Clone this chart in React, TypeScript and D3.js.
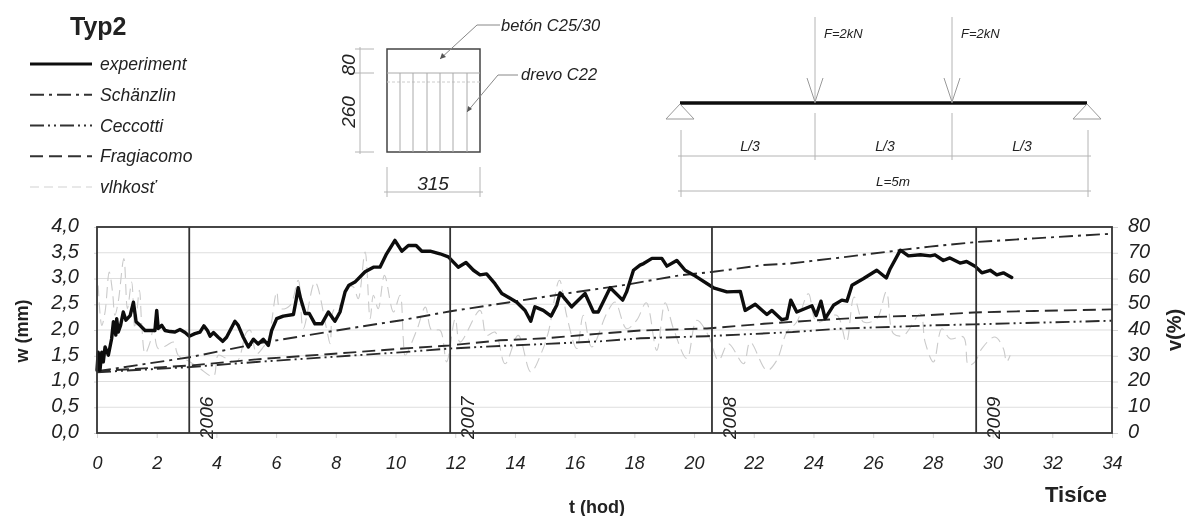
import React, { useEffect, useRef } from "react";
import * as d3 from "d3";

const FONT = "'Liberation Sans', Arial, sans-serif";

const xTicks = [0, 2, 4, 6, 8, 10, 12, 14, 16, 18, 20, 22, 24, 26, 28, 30, 32, 34];
const wTicks = [0, 0.5, 1, 1.5, 2, 2.5, 3, 3.5, 4];
const vTicks = [0, 10, 20, 30, 40, 50, 60, 70, 80];
const years = [
  { t: 3.09, label: "2006" },
  { t: 11.83, label: "2007" },
  { t: 20.6, label: "2008" },
  { t: 29.45, label: "2009" },
];

// [t (thousand hours), w (mm)]
const experiment: [number, number][] = [
  [0, 1.22], [0.04, 1.57], [0.1, 1.22], [0.16, 1.57], [0.21, 1.38], [0.27, 1.67], [0.38, 1.51], [0.49, 1.83],
  [0.55, 2.16], [0.63, 1.9], [0.66, 2.22], [0.71, 1.96], [0.79, 2.09], [0.88, 2.35], [0.97, 2.19], [1.11, 2.28],
  [1.22, 2.54], [1.31, 2.16], [1.44, 2.09], [1.61, 1.99], [1.78, 1.99], [1.94, 1.99], [2.0, 2.38], [2.05, 2.03],
  [2.17, 2.09], [2.28, 1.99], [2.45, 1.97], [2.61, 1.96], [2.78, 2.01], [2.95, 1.95], [3.09, 1.88], [3.28, 1.93],
  [3.45, 1.96], [3.58, 2.08], [3.7, 1.99], [3.79, 1.88], [3.9, 1.95], [4.06, 1.86], [4.21, 1.78], [4.34, 1.86],
  [4.62, 2.17], [4.73, 2.09], [4.9, 1.86], [5.07, 1.67], [5.24, 1.82], [5.4, 1.73], [5.57, 1.82], [5.74, 1.7],
  [5.85, 1.99], [6.02, 2.22], [6.24, 2.27], [6.58, 2.3], [6.67, 2.58], [6.74, 2.82], [6.82, 2.61], [6.97, 2.32],
  [7.11, 2.32], [7.3, 2.12], [7.53, 2.12], [7.75, 2.35], [7.97, 2.17], [8.14, 2.35], [8.31, 2.74], [8.44, 2.87],
  [8.64, 2.93], [8.98, 3.13], [9.26, 3.22], [9.48, 3.22], [9.7, 3.48], [9.98, 3.74], [10.21, 3.53], [10.43, 3.64],
  [10.69, 3.64], [10.88, 3.53], [11.16, 3.53], [11.49, 3.48], [11.77, 3.42], [12.1, 3.22], [12.36, 3.31], [12.61, 3.16],
  [12.83, 3.07], [13.05, 3.09], [13.33, 2.9], [13.56, 2.71], [14.06, 2.54], [14.34, 2.38], [14.53, 2.17], [14.67, 2.45],
  [14.95, 2.38], [15.21, 2.27], [15.4, 2.48], [15.51, 2.72], [15.9, 2.45], [16.35, 2.71], [16.63, 2.35], [16.79, 2.35],
  [17.19, 2.82], [17.61, 2.58], [17.74, 2.74], [17.97, 3.16], [18.19, 3.26], [18.31, 3.29], [18.59, 3.39], [18.92, 3.39],
  [19.09, 3.24], [19.42, 3.35], [19.7, 3.16], [19.98, 3.07], [20.65, 2.82], [21.1, 2.74], [21.55, 2.75], [21.71, 2.38],
  [22.05, 2.5], [22.44, 2.3], [22.61, 2.38], [22.94, 2.2], [23.11, 2.22], [23.24, 2.58], [23.44, 2.35], [23.95, 2.47],
  [24.09, 2.28], [24.25, 2.56], [24.39, 2.22], [24.67, 2.48], [24.95, 2.58], [25.12, 2.56], [25.29, 2.87], [25.68, 3.0],
  [26.12, 3.16], [26.44, 3.01], [26.57, 3.19], [26.91, 3.55], [27.18, 3.44], [27.58, 3.46], [27.91, 3.44], [28.07, 3.46],
  [28.35, 3.35], [28.57, 3.4], [28.91, 3.3], [29.13, 3.33], [29.41, 3.24], [29.64, 3.11], [29.92, 3.16], [30.14, 3.07],
  [30.36, 3.11], [30.64, 3.02],
];

const schanzlin: [number, number][] = [
  [0, 1.2], [3.1, 1.47], [5.5, 1.75], [8.44, 2.03], [10.2, 2.19], [11.8, 2.36], [14.06, 2.56], [15.5, 2.69],
  [17.74, 2.88], [19.5, 3.06], [20.65, 3.13], [22.3, 3.26], [23.2, 3.29], [25.1, 3.42], [26.9, 3.55], [27.9, 3.62],
  [29.5, 3.71], [31.4, 3.78], [34, 3.87],
];

const ceccotti: [number, number][] = [
  [0, 1.18], [3.1, 1.28], [5.35, 1.38], [8.44, 1.5], [10.26, 1.57], [11.8, 1.64], [13.5, 1.69], [15.06, 1.73],
  [16.85, 1.78], [18.2, 1.84], [20.43, 1.88], [23.3, 1.96], [25, 2.03], [26.6, 2.06], [28, 2.09], [29.36, 2.11],
  [31.4, 2.14], [32.7, 2.16], [34, 2.18],
];

const fragiacomo: [number, number][] = [
  [0, 1.2], [3.1, 1.31], [5.35, 1.43], [8.44, 1.56], [10.26, 1.64], [11.8, 1.7], [13.5, 1.8], [15.06, 1.84],
  [16.85, 1.93], [18.2, 1.99], [20.43, 2.03], [22.33, 2.12], [24.1, 2.19], [25.9, 2.25], [27.57, 2.28], [29.36, 2.34],
  [31.4, 2.37], [34, 2.4],
];

// [t (thousand hours), v (%)]
const moisture: [number, number][] = [
  [0.04, 57.3], [0.16, 41.8], [0.27, 47], [0.41, 62.5], [0.52, 54.8], [0.6, 45.7], [0.71, 50.9], [0.9, 67.7],
  [1.02, 48.3], [1.16, 58.6], [1.27, 40.5], [1.42, 55.4], [1.5, 41.8], [1.61, 30.8], [1.78, 35.3], [1.89, 40.5],
  [2.05, 32.8], [2.33, 34], [2.56, 35.3], [2.72, 30.2], [3.12, 27.6], [3.45, 25], [3.9, 22], [4.06, 30.2],
  [4.34, 28.9], [4.68, 27.6], [5.01, 39.2], [5.13, 39.9], [5.35, 30.8], [5.57, 33.4], [5.74, 36.6], [6.02, 54.8],
  [6.13, 48.3], [6.47, 49.6], [6.74, 59.3], [6.91, 40.5], [7.3, 58.6], [7.69, 40.5], [7.81, 34.7], [7.92, 47.6],
  [8.14, 49.6], [8.44, 56.7], [8.59, 56.7], [8.75, 52.2], [8.98, 70.3], [9.15, 44.4], [9.26, 53.5], [9.42, 48.3],
  [9.63, 61.2], [9.93, 47], [10.15, 53.5], [10.26, 36.6], [10.32, 30.2], [10.71, 39.9], [11, 48.9], [11.21, 39.9],
  [11.49, 39.9], [11.71, 27.6], [12, 44.4], [12.16, 35.3], [12.83, 47.6], [13.05, 37.9], [13.33, 39.2], [13.67, 26.9],
  [14.11, 37.9], [14.53, 23.7], [14.9, 31.5], [15.12, 39.2], [15.49, 59.3], [15.73, 45.7], [16.07, 32.8], [16.29, 45.7],
  [16.57, 33.4], [17.07, 46.3], [17.35, 50.9], [17.74, 40.5], [18.08, 43.8], [18.4, 50.6], [18.75, 32.1], [19.03, 50.6],
  [19.31, 40.5], [19.76, 28.9], [20.09, 43.8], [20.48, 37.9], [20.82, 28.2], [21.15, 34.7], [21.66, 26.9], [21.88, 35.3],
  [22.44, 24.3], [22.77, 28.2], [23.11, 39.2], [23.44, 43.1], [23.83, 54.1], [24.11, 43.1], [24.78, 45.7], [25.1, 35.3],
  [25.36, 52.8], [25.68, 43.1], [26.12, 44.4], [26.44, 54.8], [26.68, 38.6], [27.02, 37.9], [27.58, 46.3], [27.74, 35.3],
  [28.02, 27.6], [28.3, 40.5], [28.58, 36.6], [29.02, 37.3], [29.19, 26.3], [29.41, 27.6], [29.64, 32.8], [30.08, 37.3],
  [30.36, 32.8], [30.47, 27.6], [30.59, 30.2],
];

const legendItems = [
  { label: "experiment", color: "#111", width: 3, dash: null },
  { label: "Schänzlin", color: "#333", width: 1.8, dash: "14 5 3 5" },
  { label: "Ceccotti", color: "#333", width: 1.8, dash: "14 4 2 4 2 4" },
  { label: "Fragiacomo", color: "#333", width: 1.8, dash: "13 6" },
  { label: "vlhkosť", color: "#d2d2d2", width: 1.1, dash: "9 5" },
];

function App() {
  const svgRef = useRef<SVGSVGElement>(null);

  useEffect(() => {
    const svg = d3.select(svgRef.current);
    svg.selectAll("*").remove();

    svg
      .append("defs")
      .append("filter")
      .attr("id", "soft")
      .attr("x", 0)
      .attr("y", 0)
      .attr("width", 1)
      .attr("height", 1)
      .append("feGaussianBlur")
      .attr("stdDeviation", 0.6);

    const root = svg.append("g").attr("filter", "url(#soft)").attr("font-family", FONT);
    root.append("rect").attr("width", 1187).attr("height", 516).attr("fill", "#fff");

    const text = (
      parent: any,
      x: number,
      y: number,
      str: string,
      size: number,
      opts: { bold?: boolean; anchor?: string; rotate?: boolean } = {}
    ) =>
      parent
        .append("text")
        .attr("transform", `translate(${x},${y})${opts.rotate ? " rotate(-90)" : ""}`)
        .attr("font-size", size)
        .attr("font-style", opts.bold ? "normal" : "italic")
        .attr("font-weight", opts.bold ? "bold" : "normal")
        .attr("text-anchor", opts.anchor || "start")
        .attr("fill", "#222")
        .text(str);

    const seg = (parent: any, x1: number, y1: number, x2: number, y2: number, color = "#b4b4b4", w = 1) =>
      parent
        .append("line")
        .attr("x1", x1)
        .attr("y1", y1)
        .attr("x2", x2)
        .attr("y2", y2)
        .attr("stroke", color)
        .attr("stroke-width", w);

    // Scales
    const x = d3.scaleLinear().domain([0, 34]).range([97, 1112]);
    const yW = d3.scaleLinear().domain([0, 4]).range([433, 227]);
    const yV = d3.scaleLinear().domain([0, 80]).range([433, 227]);

    // Gridlines
    root
      .append("g")
      .selectAll("line")
      .data(wTicks)
      .join("line")
      .attr("x1", x(0))
      .attr("x2", x(34))
      .attr("y1", (d) => yW(d))
      .attr("y2", (d) => yW(d))
      .attr("stroke", "#dedede")
      .attr("stroke-width", 1.2);

    // Axes
    const styleAxis = (g: any) => {
      g.select(".domain").remove();
      g.selectAll("line").attr("stroke", "#d4d4d4");
      g.selectAll("text").attr("font-family", FONT).attr("font-style", "italic").attr("fill", "#222");
    };

    root
      .append("g")
      .attr("transform", "translate(0,433)")
      .call(d3.axisBottom(x).tickValues(xTicks).tickSize(5).tickPadding(18))
      .call(styleAxis)
      .selectAll("text")
      .attr("font-size", 18);

    root
      .append("g")
      .attr("transform", "translate(97,0)")
      .call(
        d3
          .axisLeft(yW)
          .tickValues(wTicks)
          .tickSize(3)
          .tickPadding(15)
          .tickFormat((d) => d3.format(".1f")(d as number).replace(".", ","))
      )
      .call(styleAxis)
      .selectAll("text")
      .attr("font-size", 20)
      .attr("dy", "0.22em");

    root
      .append("g")
      .attr("transform", "translate(1112,0)")
      .call(d3.axisRight(yV).tickValues(vTicks).tickSize(6).tickPadding(10))
      .call(styleAxis)
      .selectAll("text")
      .attr("font-size", 20)
      .attr("dy", "0.22em");

    // Series
    const lineW = d3
      .line<[number, number]>()
      .x((d) => x(d[0]))
      .y((d) => yW(d[1]));
    const lineV = d3
      .line<[number, number]>()
      .x((d) => x(d[0]))
      .y((d) => yV(d[1]))
      .curve(d3.curveCatmullRom);

    root
      .append("path")
      .attr("d", lineV(moisture))
      .attr("fill", "none")
      .attr("stroke", "#cacaca")
      .attr("stroke-width", 1.1)
      .attr("stroke-dasharray", "11 6");

    const models: [[number, number][], string][] = [
      [schanzlin, legendItems[1].dash as string],
      [ceccotti, legendItems[2].dash as string],
      [fragiacomo, legendItems[3].dash as string],
    ];
    models.forEach(([data, dash]) => {
      root
        .append("path")
        .attr("d", lineW(data))
        .attr("fill", "none")
        .attr("stroke", "#2a2a2a")
        .attr("stroke-width", 1.9)
        .attr("stroke-dasharray", dash);
    });

    root
      .append("path")
      .attr("d", lineW(experiment))
      .attr("fill", "none")
      .attr("stroke", "#0c0c0c")
      .attr("stroke-width", 3.4)
      .attr("stroke-linejoin", "round")
      .attr("stroke-linecap", "round");

    // Year markers
    years.forEach((d) => {
      seg(root, x(d.t), 227, x(d.t), 433, "#333", 1.8);
      text(root, x(d.t) + 24, 439, d.label, 19, { rotate: true });
    });

    // Frame
    root
      .append("rect")
      .attr("x", x(0))
      .attr("y", 227)
      .attr("width", x(34) - x(0))
      .attr("height", 206)
      .attr("fill", "none")
      .attr("stroke", "#333")
      .attr("stroke-width", 1.8);

    // Axis titles
    text(root, 28, 331, "w (mm)", 18, { bold: true, anchor: "middle", rotate: true });
    text(root, 1181, 330, "v(%)", 20, { bold: true, anchor: "middle", rotate: true });
    text(root, 597, 513, "t (hod)", 18, { bold: true, anchor: "middle" });
    text(root, 1045, 502, "Tisíce", 22, { bold: true });

    // Legend
    text(root, 70, 35, "Typ2", 25, { bold: true });
    const legendY = d3.scalePoint<string>().domain(legendItems.map((d) => d.label)).range([64, 187]);
    legendItems.forEach((d) => {
      const yy = legendY(d.label) as number;
      const l = seg(root, 30, yy, 92, yy, d.color, d.width);
      if (d.dash) l.attr("stroke-dasharray", d.dash);
      text(root, 100, yy + 6, d.label, 17.5);
    });

    // Cross-section sketch
    const sec = root.append("g");
    sec.append("rect").attr("x", 387).attr("y", 49).attr("width", 93).attr("height", 103).attr("fill", "none").attr("stroke", "#444").attr("stroke-width", 1.5);
    seg(sec, 387, 73, 480, 73, "#aaa");
    seg(sec, 387, 82, 480, 82, "#ccc").attr("stroke-dasharray", "3 2");
    [400, 413, 427, 440, 453, 467].forEach((xx) => seg(sec, xx, 73, xx, 152, "#aaa"));
    seg(sec, 360, 47, 360, 154);
    seg(sec, 355, 49, 374, 49);
    seg(sec, 355, 73, 374, 73);
    seg(sec, 355, 152, 374, 152);
    seg(sec, 387, 167, 387, 197);
    seg(sec, 480, 167, 480, 197);
    seg(sec, 384, 192, 483, 192);
    text(sec, 355, 65, "80", 19, { anchor: "middle", rotate: true });
    text(sec, 355, 112, "260", 19, { anchor: "middle", rotate: true });
    text(sec, 433, 190, "315", 19, { anchor: "middle" });
    sec.append("path").attr("d", "M500,25H477L440,59").attr("fill", "none").attr("stroke", "#888");
    sec.append("path").attr("d", "M440,59l2,-6l4,4z").attr("fill", "#555");
    sec.append("path").attr("d", "M518,75H498L467,112").attr("fill", "none").attr("stroke", "#888");
    sec.append("path").attr("d", "M467,112l1,-6l4,3z").attr("fill", "#555");
    text(sec, 501, 31, "betón C25/30", 16.5);
    text(sec, 521, 80, "drevo C22", 16.5);

    // Beam sketch
    const beam = root.append("g");
    seg(beam, 680, 103, 1087, 103, "#111", 3.5);
    [815, 952].forEach((xx) => {
      seg(beam, xx, 17, xx, 103, "#b4b4b4");
      beam.append("path").attr("d", `M${xx - 8},78L${xx},102L${xx + 8},78`).attr("fill", "none").attr("stroke", "#999");
      text(beam, xx + 9, 38, "F=2kN", 13);
      seg(beam, xx, 113, xx, 160);
    });
    [680, 1087].forEach((xx) => {
      beam.append("path").attr("d", `M${xx},104L${xx - 14},119H${xx + 14}Z`).attr("fill", "none").attr("stroke", "#999");
      seg(beam, xx + 1, 130, xx + 1, 197);
    });
    seg(beam, 678, 156, 1091, 156);
    seg(beam, 678, 191, 1091, 191);
    text(beam, 750, 151, "L/3", 14, { anchor: "middle" });
    text(beam, 885, 151, "L/3", 14, { anchor: "middle" });
    text(beam, 1022, 151, "L/3", 14, { anchor: "middle" });
    text(beam, 893, 186, "L=5m", 13.5, { anchor: "middle" });
  }, []);

  return <svg ref={svgRef} width={1187} height={516} style={{ position: "absolute", left: 0, top: 0 }}></svg>;
}

export default App;
